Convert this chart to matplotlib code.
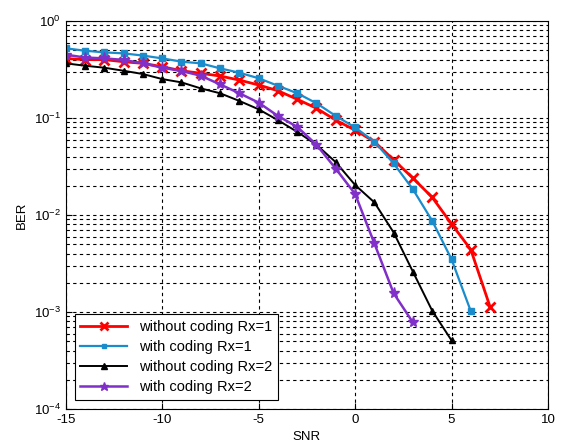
import matplotlib
matplotlib.use("Agg")
import matplotlib.pyplot as plt
from matplotlib.ticker import LogLocator, NullFormatter

plt.rcParams['font.family'] = ['Liberation Sans', 'DejaVu Sans']
plt.rcParams['axes.unicode_minus'] = False

# SNR (dB) points for each curve
snr_red = list(range(-15, 8))
snr_blue = list(range(-15, 7))
snr_black = list(range(-15, 6))
snr_purple = list(range(-15, 4))

# BER values
ber_red = [0.41, 0.40, 0.40, 0.38, 0.366, 0.338, 0.307, 0.289, 0.271, 0.246, 0.219,
           0.191, 0.156, 0.126, 0.095, 0.075, 0.057, 0.037, 0.024, 0.0152, 0.0081,
           0.0044, 0.00113]
ber_blue = [0.523, 0.494, 0.475, 0.464, 0.44, 0.412, 0.381, 0.366, 0.325, 0.293, 0.257,
            0.215, 0.18, 0.142, 0.105, 0.080, 0.057, 0.034, 0.0184, 0.0087, 0.0035,
            0.00102]
ber_black = [0.366, 0.346, 0.33, 0.307, 0.284, 0.252, 0.233, 0.202, 0.18, 0.15, 0.123,
             0.095, 0.072, 0.053, 0.035, 0.0204, 0.0135, 0.0066, 0.0026, 0.00103,
             0.00051]
ber_purple = [0.45, 0.42, 0.412, 0.397, 0.366, 0.33, 0.305, 0.273, 0.222, 0.18, 0.144,
              0.105, 0.081, 0.053, 0.030, 0.0165, 0.0051, 0.00156, 0.00078]

labels = ['without coding Rx=1', 'with coding Rx=1',
          'without coding Rx=2', 'with coding Rx=2']

fig = plt.figure(figsize=(5.62, 4.47), dpi=100)
ax = fig.add_axes([0.117, 0.085, 0.858, 0.868])

ax.semilogy(snr_red, ber_red, color='#ff0000', lw=2, marker='x', ms=7, mew=2,
            label=labels[0])
ax.semilogy(snr_blue, ber_blue, color='#1a8ccc', lw=1.6, marker='s', ms=4,
            label=labels[1])
ax.semilogy(snr_black, ber_black, color='black', lw=1.4, marker='^', ms=5,
            label=labels[2])
ax.semilogy(snr_purple, ber_purple, color='#8030c8', lw=1.8, marker='*', ms=8,
            label=labels[3])

ax.set_xlim(-15, 10)
ax.set_ylim(1e-4, 1)
ax.set_xticks([-15, -10, -5, 0, 5, 10])
ax.yaxis.set_major_locator(LogLocator(base=10, numticks=10))
ax.yaxis.set_minor_locator(LogLocator(base=10, subs=range(2, 10), numticks=20))
ax.yaxis.set_minor_formatter(NullFormatter())

ax.grid(True, which='major', color='black', linestyle=(0, (3, 3)), lw=0.8)
ax.grid(True, which='minor', axis='y', color='black', linestyle=(0, (3, 3)), lw=0.8)

ax.tick_params(which='both', direction='in', labelsize=9.5)
ax.tick_params(which='major', length=4)
ax.tick_params(which='minor', length=2)
for s in ax.spines.values():
    s.set_linewidth(0.8)

ax.set_xlabel('SNR', fontsize=9.5)
ax.set_ylabel('BER', fontsize=9.5)

leg = ax.legend(loc='lower left', fontsize=10.5, fancybox=False, framealpha=1,
                edgecolor='black', borderaxespad=0.6, handlelength=3.2,
                labelspacing=0.42, markerscale=0.8)
leg.get_frame().set_linewidth(0.8)

fig.savefig('out.png', dpi=100)
